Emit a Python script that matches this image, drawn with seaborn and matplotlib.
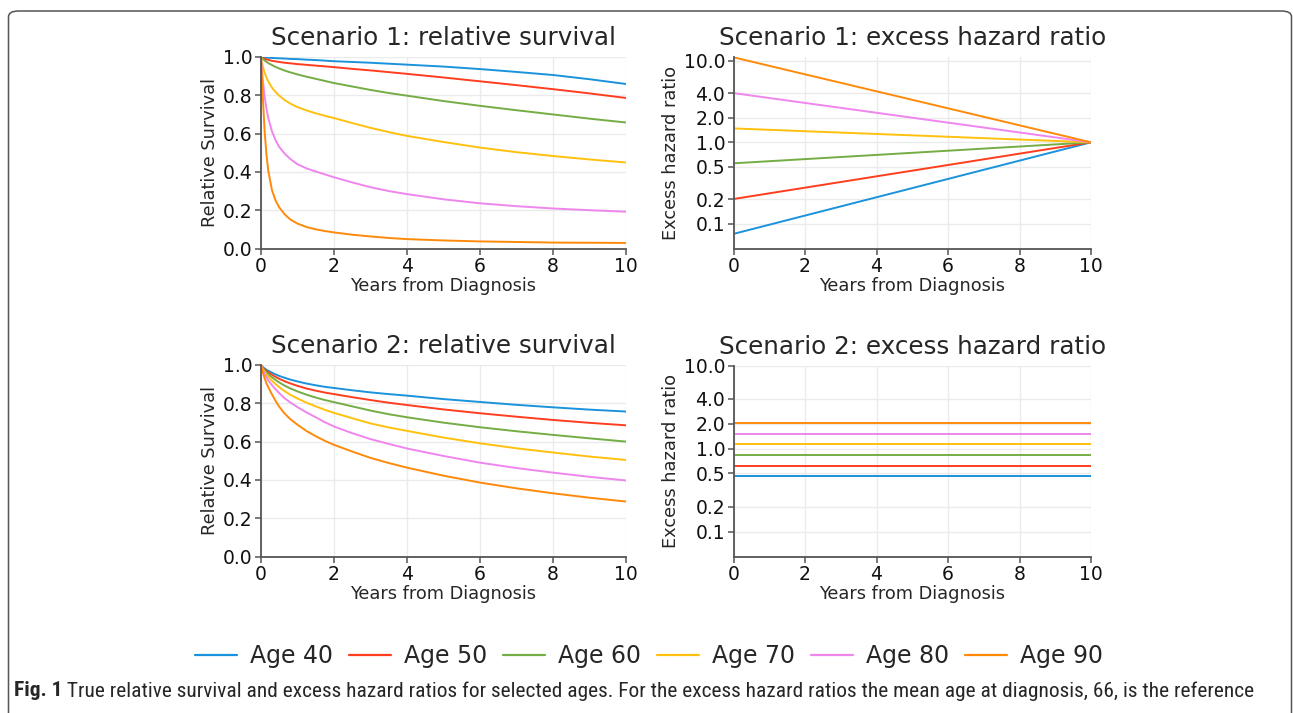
import numpy as np
import pandas as pd
import matplotlib
matplotlib.use("Agg")
import matplotlib.pyplot as plt
import seaborn as sns
from matplotlib import font_manager
from matplotlib.patches import FancyBboxPatch
from matplotlib.lines import Line2D
from matplotlib.ticker import FixedLocator, FixedFormatter, NullLocator

# ---------------- data ----------------
ages = ["Age 40", "Age 50", "Age 60", "Age 70", "Age 80", "Age 90"]
colors = ["#1a93dc", "#ff3d1f", "#74ad44", "#ffc10e", "#ee86ee", "#ff8a0a"]

years = [0, 0.02, 0.05, 0.1, 0.15, 0.2, 0.3, 0.4, 0.5, 0.65, 0.8, 1.0, 1.25, 1.5, 1.75,
         2.0, 2.5, 3, 3.5, 4, 5, 6, 7, 8, 9, 10]

# Scenario 1: relative survival
s1_age40 = [1.0, 1.0, 0.999, 0.998, 0.997, 0.996, 0.995, 0.994, 0.993, 0.992, 0.990, 0.989, 0.986,
            0.984, 0.981, 0.978, 0.974, 0.970, 0.965, 0.960, 0.950, 0.937, 0.922, 0.906, 0.884, 0.859]
s1_age50 = [1.0, 0.998, 0.995, 0.991, 0.988, 0.985, 0.980, 0.977, 0.974, 0.970, 0.967, 0.963, 0.959,
            0.955, 0.951, 0.947, 0.938, 0.930, 0.921, 0.912, 0.893, 0.873, 0.853, 0.832, 0.810, 0.786]
s1_age60 = [1.0, 0.996, 0.990, 0.982, 0.975, 0.968, 0.958, 0.948, 0.940, 0.929, 0.920, 0.909, 0.897,
            0.886, 0.875, 0.864, 0.846, 0.828, 0.812, 0.798, 0.770, 0.745, 0.722, 0.700, 0.678, 0.658]
s1_age70 = [1.0, 0.975, 0.950, 0.918, 0.893, 0.872, 0.840, 0.817, 0.798, 0.775, 0.757, 0.738, 0.721,
            0.706, 0.693, 0.681, 0.655, 0.630, 0.608, 0.588, 0.556, 0.527, 0.503, 0.483, 0.465, 0.449]
s1_age80 = [1.0, 0.945, 0.880, 0.795, 0.730, 0.680, 0.612, 0.565, 0.530, 0.495, 0.468, 0.440, 0.418,
            0.402, 0.387, 0.372, 0.345, 0.320, 0.300, 0.284, 0.257, 0.236, 0.221, 0.209, 0.200, 0.192]
s1_age90 = [1.0, 0.910, 0.790, 0.610, 0.490, 0.405, 0.305, 0.250, 0.215, 0.178, 0.152, 0.130, 0.112,
            0.100, 0.091, 0.084, 0.072, 0.063, 0.055, 0.049, 0.042, 0.037, 0.034, 0.031, 0.030, 0.029]

# Scenario 2: relative survival
s2_age40 = [1.0, 0.995, 0.989, 0.982, 0.975, 0.970, 0.960, 0.951, 0.943, 0.933, 0.924, 0.914, 0.903,
            0.894, 0.886, 0.880, 0.868, 0.857, 0.848, 0.840, 0.822, 0.807, 0.792, 0.779, 0.767, 0.757]
s2_age50 = [1.0, 0.994, 0.986, 0.977, 0.969, 0.962, 0.949, 0.938, 0.928, 0.915, 0.904, 0.891, 0.877,
            0.866, 0.856, 0.848, 0.832, 0.817, 0.803, 0.791, 0.768, 0.748, 0.730, 0.713, 0.698, 0.685]
s2_age60 = [1.0, 0.993, 0.983, 0.971, 0.961, 0.952, 0.936, 0.922, 0.909, 0.892, 0.878, 0.862, 0.845,
            0.830, 0.817, 0.806, 0.784, 0.762, 0.743, 0.727, 0.699, 0.675, 0.654, 0.635, 0.617, 0.600]
s2_age70 = [1.0, 0.991, 0.978, 0.962, 0.950, 0.938, 0.918, 0.900, 0.884, 0.863, 0.845, 0.825, 0.803,
            0.784, 0.766, 0.750, 0.722, 0.695, 0.674, 0.656, 0.621, 0.591, 0.565, 0.543, 0.522, 0.504]
s2_age80 = [1.0, 0.988, 0.972, 0.952, 0.935, 0.920, 0.895, 0.873, 0.853, 0.826, 0.805, 0.780, 0.752,
            0.727, 0.701, 0.679, 0.644, 0.613, 0.588, 0.564, 0.525, 0.490, 0.462, 0.438, 0.416, 0.397]
s2_age90 = [1.0, 0.982, 0.960, 0.930, 0.905, 0.884, 0.847, 0.812, 0.782, 0.746, 0.718, 0.688, 0.655,
            0.628, 0.604, 0.583, 0.548, 0.515, 0.488, 0.464, 0.422, 0.386, 0.356, 0.330, 0.307, 0.287]

# Excess hazard ratios (log-linear in time, values at start and end)
ehr_years = [0, 10]
s1_ehr_age40 = [0.0755, 1.0]
s1_ehr_age50 = [0.202, 1.0]
s1_ehr_age60 = [0.553, 1.0]
s1_ehr_age70 = [1.48, 1.0]
s1_ehr_age80 = [4.01, 1.0]
s1_ehr_age90 = [11.0, 1.0]

s2_ehr_age40 = [0.46, 0.46]
s2_ehr_age50 = [0.62, 0.62]
s2_ehr_age60 = [0.83, 0.83]
s2_ehr_age70 = [1.12, 1.12]
s2_ehr_age80 = [1.50, 1.50]
s2_ehr_age90 = [2.04, 2.04]

ehr_ticks = [0.1, 0.2, 0.5, 1.0, 2.0, 4.0, 10.0]
ehr_ticklabels = ["0.1", "0.2", "0.5", "1.0", "2.0", "4.0", "10.0"]
rs_ticks = [0.0, 0.2, 0.4, 0.6, 0.8, 1.0]
year_ticks = [0, 2, 4, 6, 8, 10]

caption_bold = "Fig. 1"
caption_rest = (" True relative survival and excess hazard ratios for selected ages. "
                "For the excess hazard ratios the mean age at diagnosis, 66, is the reference")


def long_df(x, series):
    rows = []
    for age, vals in zip(ages, series):
        for xi, v in zip(x, vals):
            rows.append((xi, v, age))
    return pd.DataFrame(rows, columns=["t", "v", "age"])


df_s1 = long_df(years, [s1_age40, s1_age50, s1_age60, s1_age70, s1_age80, s1_age90])
df_s2 = long_df(years, [s2_age40, s2_age50, s2_age60, s2_age70, s2_age80, s2_age90])
df_h1 = long_df(ehr_years, [s1_ehr_age40, s1_ehr_age50, s1_ehr_age60, s1_ehr_age70, s1_ehr_age80, s1_ehr_age90])
df_h2 = long_df(ehr_years, [s2_ehr_age40, s2_ehr_age50, s2_ehr_age60, s2_ehr_age70, s2_ehr_age80, s2_ehr_age90])

# ---------------- style ----------------
sns.set_theme(style="whitegrid")
plt.rcParams["font.family"] = ["DejaVu Sans"]
plt.rcParams.update({
    "axes.edgecolor": "#555555",
    "axes.linewidth": 1.3,
    "grid.color": "#ebebeb",
    "grid.linewidth": 1.0,
    "xtick.color": "#555555",
    "ytick.color": "#555555",
    "xtick.labelcolor": "#111111",
    "ytick.labelcolor": "#111111",
    "xtick.bottom": True,
    "ytick.left": True,
    "xtick.major.size": 4,
    "ytick.major.size": 4,
    "xtick.major.width": 1.1,
    "ytick.major.width": 1.1,
    "xtick.major.pad": 2,
    "ytick.major.pad": 2,
})

W, H = 1293, 713
fig = plt.figure(figsize=(W / 100, H / 100), dpi=100)
palette = dict(zip(ages, colors))


def px_axes(left, top, right, bottom):
    return fig.add_axes([left / W, 1 - bottom / H, (right - left) / W, (bottom - top) / H])


ax1 = px_axes(261, 57, 626, 248.5)
ax2 = px_axes(733.5, 57, 1091, 248.5)
ax3 = px_axes(261, 365, 626, 556.5)
ax4 = px_axes(733.5, 365.5, 1091, 556.5)

for ax, d in [(ax1, df_s1), (ax2, df_h1), (ax3, df_s2), (ax4, df_h2)]:
    sns.lineplot(data=d, x="t", y="v", hue="age", hue_order=ages, palette=palette,
                 ax=ax, legend=False, estimator=None, linewidth=1.4)

title_fs = 17.7
lab_fs = 12.8
tick_fs = 13.5

for ax, title in [(ax1, "Scenario 1: relative survival"), (ax3, "Scenario 2: relative survival")]:
    ax.set_xlim(0, 10)
    ax.set_ylim(0, 1.0)
    ax.set_xticks(year_ticks)
    ax.set_yticks(rs_ticks)
    ax.set_yticklabels([f"{v:.1f}" for v in rs_ticks])
    ax.set_ylabel("Relative Survival", fontsize=lab_fs, labelpad=3)
    ax.set_title(title, fontsize=title_fs, pad=8.5)

for ax, title, top in [(ax2, "Scenario 1: excess hazard ratio", 11.1), (ax4, "Scenario 2: excess hazard ratio", 10.0)]:
    ax.set_yscale("log")
    ax.set_xlim(0, 10)
    ax.set_ylim(0.05, top)
    ax.set_xticks(year_ticks)
    ax.yaxis.set_major_locator(FixedLocator(ehr_ticks))
    ax.yaxis.set_major_formatter(FixedFormatter(ehr_ticklabels))
    ax.yaxis.set_minor_locator(NullLocator())
    ax.set_ylabel("Excess hazard ratio", fontsize=lab_fs, labelpad=3)
    ax.set_title(title, fontsize=title_fs, pad=8.5)

for ax in (ax1, ax2, ax3, ax4):
    ax.set_xlabel("Years from Diagnosis", fontsize=lab_fs, labelpad=0.5)
    ax.tick_params(labelsize=tick_fs)
    for s in ("top", "right"):
        ax.spines[s].set_visible(False)
    ax.grid(True, which="major")
    ax.set_axisbelow(True)

# legend
handles = [Line2D([0], [0], color=c, lw=1.6) for c in colors]
fig.legend(handles, ages, loc="center", bbox_to_anchor=(649 / W, 1 - 656 / H), ncol=6,
           frameon=False, fontsize=17, handlelength=1.78, columnspacing=0.68, handletextpad=0.55)

# border box (cropped page frame)
box = FancyBboxPatch((8.5 / W, -0.2), (1291.5 - 8.5) / W, (1 - 11 / H) + 0.2,
                     boxstyle="round,pad=0,rounding_size=0.008", transform=fig.transFigure,
                     fill=False, edgecolor="#555555", linewidth=1.1)
fig.add_artist(box)

# caption
avail = {f.name for f in font_manager.fontManager.ttflist}
cap_font = "DejaVu Sans"
for cand in ["Liberation Sans Narrow", "Roboto Condensed", "Open Sans", "Noto Sans"]:
    if cand in avail:
        cap_font = cand
        break

renderer = fig.canvas.get_renderer()
cap_fs = 12
cap_y = 1 - 691 / H
tb = fig.text(14 / W, cap_y, caption_bold, fontsize=cap_fs, fontweight="bold",
              family=cap_font, va="center", ha="left")
tr = fig.text(0, cap_y, caption_rest, fontsize=cap_fs, family=cap_font, va="center", ha="left")
wb = tb.get_window_extent(renderer).width
wr = tr.get_window_extent(renderer).width
scale = (1251 - 14) / (wb + wr)
cap_fs = cap_fs * scale
tb.set_fontsize(cap_fs)
tr.set_fontsize(cap_fs)
wb = tb.get_window_extent(renderer).width
tr.set_x((14 + wb) / W)

fig.savefig("out.png", dpi=100)
